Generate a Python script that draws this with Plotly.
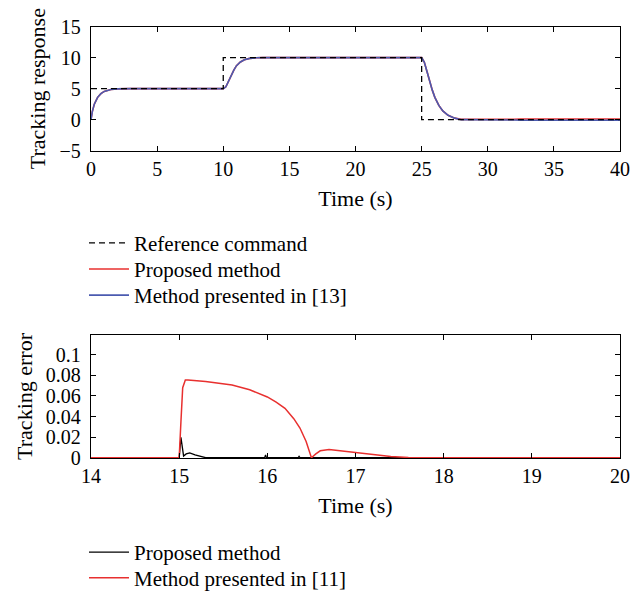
import plotly.graph_objects as go

# ---- Top panel data ----
ref_t = [0, 10, 10, 25, 25, 40]
ref_v = [5, 5, 10, 10, 0, 0]

resp_t = [0, 0.1, 0.25, 0.5, 0.75, 1, 1.5, 2, 3, 10, 10.2, 10.4, 10.6, 10.8, 11, 11.3,
          11.6, 12, 12.5, 13, 25, 25.2, 25.4, 25.6, 25.8, 26, 26.3, 26.6, 27, 27.5, 28,
          32, 32.5, 40]
proposed_v = [0, 1.3, 2.5, 3.6, 4.2, 4.55, 4.85, 4.96, 5, 5, 5.3, 6.2, 7.2, 8.0, 8.7, 9.3,
              9.65, 9.88, 9.97, 10, 10, 9.3, 7.8, 6.2, 4.8, 3.6, 2.3, 1.4, 0.7, 0.25, 0.05,
              0.05, 0.12, 0.12]
method13_v = [0, 1.3, 2.5, 3.6, 4.2, 4.55, 4.85, 4.96, 5, 5, 5.3, 6.2, 7.2, 8.0, 8.7, 9.3,
              9.65, 9.88, 9.97, 10, 10, 9.3, 7.8, 6.2, 4.8, 3.6, 2.3, 1.4, 0.7, 0.25, 0.0,
              -0.05, -0.1, -0.1]

# ---- Bottom panel data ----
err11_t = [14, 15.0, 15.02, 15.04, 15.07, 15.1, 15.3, 15.6, 15.8, 16.0, 16.1, 16.2, 16.3,
           16.37, 16.44, 16.5, 16.55, 16.6, 16.7, 16.85, 17.0, 17.2, 17.4, 17.6, 18, 20]
err11_v = [0.0002, 0.0002, 0.035, 0.068, 0.0755, 0.0755, 0.074, 0.0705, 0.066, 0.059,
           0.054, 0.048, 0.038, 0.029, 0.016, 0.0003, 0.004, 0.007, 0.0082, 0.0068, 0.005,
           0.0032, 0.0015, 0.0005, 0.0002, 0.0002]
errprop_t = [14, 15.0, 15.02, 15.05, 15.08, 15.12, 15.18, 15.25, 15.3, 15.97, 15.98,
             15.99, 16.35, 16.36, 16.37, 20]
errprop_v = [0.0003, 0.0003, 0.02, 0.002, 0.004, 0.005, 0.003, 0.001, 0.0003, 0.0003,
             0.003, 0.0003, 0.0003, 0.0015, 0.0003, 0.0003]

FONT = "Liberation Serif"
RED = "#e8302f"
BLUE = "#4b5bb0"

W, H = 640, 599

def xd(a, b):
    return [a / W, b / W]

def yd(top, bottom):
    return [1 - bottom / H, 1 - top / H]

fig = go.Figure()
fig.add_trace(go.Scatter(x=resp_t, y=proposed_v, mode="lines", name="Proposed method",
                         line=dict(color=RED, width=1.6), xaxis="x", yaxis="y",
                         legend="legend2", showlegend=True))
fig.add_trace(go.Scatter(x=resp_t, y=method13_v, mode="lines", name="Method presented in [13]",
                         line=dict(color=BLUE, width=1.6), xaxis="x", yaxis="y",
                         legend="legend3", showlegend=True))
fig.add_trace(go.Scatter(x=ref_t, y=ref_v, mode="lines", name="Reference command",
                         line=dict(color="black", width=1.3, dash="6px,4px"),
                         xaxis="x", yaxis="y", legend="legend", showlegend=True))
fig.add_trace(go.Scatter(x=errprop_t, y=errprop_v, mode="lines", name="Proposed method",
                         line=dict(color="black", width=1.3), xaxis="x2", yaxis="y2",
                         legend="legend4", showlegend=True))
fig.add_trace(go.Scatter(x=err11_t, y=err11_v, mode="lines", name="Method presented in [11]",
                         line=dict(color=RED, width=1.5), xaxis="x2", yaxis="y2",
                         legend="legend5", showlegend=True))

ax = dict(showline=True, linecolor="black", linewidth=1.3, mirror="ticks",
          ticks="inside", ticklen=5, tickcolor="black", showgrid=False, zeroline=False,
          automargin=False, tickfont=dict(family=FONT, size=20, color="black"))

def leg(ypx):
    return dict(x=(90 - 6) / W, y=1 - ypx / H, xanchor="left", yanchor="middle",
                bgcolor="rgba(0,0,0,0)", font=dict(family=FONT, size=21),
                itemwidth=40, borderwidth=0)

fig.update_layout(
    width=W, height=H,
    showlegend=True,
    margin=dict(l=0, r=0, t=0, b=0),
    paper_bgcolor="white", plot_bgcolor="white",
    font=dict(family=FONT, size=18, color="black"),
    xaxis=dict(**ax, domain=xd(91, 620), range=[0, 40], tickvals=[0, 5, 10, 15, 20, 25, 30, 35, 40],
               anchor="y", title=dict(text="Time (s)", standoff=11)),
    yaxis=dict(**ax, domain=yd(27, 153), range=[-5, 15], tickvals=[-5, 0, 5, 10, 15],
               anchor="x", ticklabelstandoff=5, title=dict(text="Tracking response", standoff=7)),
    xaxis2=dict(**ax, domain=xd(91, 620), range=[14, 20], tickvals=[14, 15, 16, 17, 18, 19, 20],
                anchor="y2", title=dict(text="Time (s)", standoff=11)),
    yaxis2=dict(**ax, domain=yd(340, 465), range=[0, 0.119],
                tickvals=[0, 0.02, 0.04, 0.06, 0.08, 0.1], ticktext=["0", "0.02", "0.04", "0.06", "0.08", "0.1"],
                anchor="x2", ticklabelstandoff=5, title=dict(text="Tracking error", standoff=7)),
    legend=leg(247), legend2=leg(273.5), legend3=leg(300),
    legend4=leg(561), legend5=leg(587),
)

fig.write_html("out.html", config={"displayModeBar": False},
               post_script="document.body.style.margin='0';document.body.style.overflow='hidden';")
